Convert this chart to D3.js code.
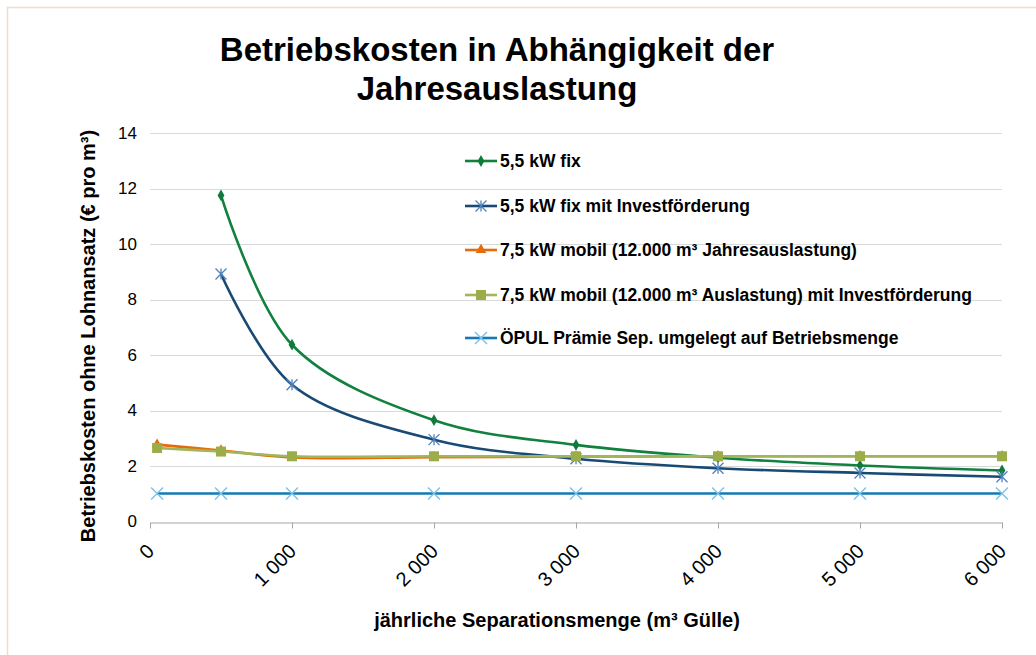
<!DOCTYPE html>
<html>
<head>
<meta charset="utf-8">
<script src="https://cdn.jsdelivr.net/npm/d3@7"></script>
<style>
  body { margin: 0; background: #fff; }
  svg { display: block; font-family: "Liberation Sans", Arial, sans-serif; }
</style>
</head>
<body>
<svg width="1036" height="655"></svg>
<script>
// data
var mengen = [50, 500, 1000, 2000, 3000, 4000, 5000, 6000];
var fix55 = [null, 11.75, 6.37, 3.65, 2.76, 2.30, 2.02, 1.84];
var fix55Invest = [null, 8.92, 4.93, 2.95, 2.26, 1.92, 1.75, 1.61];
var mobil75 = [2.77, 2.56, 2.31, 2.32, 2.34, 2.35, 2.35, 2.35];
var mobil75Invest = [2.65, 2.52, 2.35, 2.35, 2.35, 2.35, 2.35, 2.35];
var oepul = [1.01, 1.01, 1.01, 1.01, 1.01, 1.01, 1.01, 1.01];
var yTicks = [0, 2, 4, 6, 8, 10, 12, 14];
var xTicks = [0, 1000, 2000, 3000, 4000, 5000, 6000];

var series = [
  { name: "5,5 kW fix", values: fix55, line: "#12803f", mark: "#0f7a3b", symbol: "diamond" },
  { name: "5,5 kW fix mit Investförderung", values: fix55Invest, line: "#184a74", mark: "#4f81bd", symbol: "asterisk" },
  { name: "7,5 kW mobil (12.000 m³ Jahresauslastung)", values: mobil75, line: "#e46c0a", mark: "#e46c0a", symbol: "triangle" },
  { name: "7,5 kW mobil (12.000 m³ Auslastung) mit Investförderung", values: mobil75Invest, line: "#a3b55a", mark: "#9aad48", symbol: "square" },
  { name: "ÖPUL Prämie Sep. umgelegt auf Betriebsmenge", values: oepul, line: "#1479b5", mark: "#7fc3e8", symbol: "cross" }
];

var svg = d3.select("svg");

// outer frame
svg.append("rect")
  .attr("x", 7.5).attr("y", 7.5)
  .attr("width", 1100).attr("height", 700)
  .attr("fill", "none")
  .attr("stroke", "#f1dbcd")
  .attr("stroke-width", 1.5);

var x = d3.scaleLinear().domain([0, 6000]).range([150, 1002]);
var y = d3.scaleLinear().domain([0, 14]).range([521.5, 133]);

// title
var title = svg.append("text")
  .attr("text-anchor", "middle")
  .attr("font-weight", "bold")
  .attr("font-size", 33)
  .attr("fill", "#000");
title.append("tspan").attr("x", 497).attr("y", 61).text("Betriebskosten in Abhängigkeit der");
title.append("tspan").attr("x", 497).attr("y", 100).text("Jahresauslastung");

// gridlines
svg.append("g")
  .selectAll("line")
  .data(yTicks.filter(function (d) { return d > 0; }))
  .join("line")
  .attr("x1", x(0)).attr("x2", x(6000))
  .attr("y1", function (d) { return Math.round(y(d)) + 0.5; })
  .attr("y2", function (d) { return Math.round(y(d)) + 0.5; })
  .attr("stroke", "#d9d9d9")
  .attr("stroke-width", 1);

// y axis labels
var yAxis = svg.append("g")
  .attr("transform", "translate(" + x(0) + ",0)")
  .call(d3.axisLeft(y).tickValues(yTicks).tickSize(0).tickPadding(13));
yAxis.select(".domain").remove();
yAxis.selectAll("text")
  .attr("font-family", "Liberation Sans, Arial, sans-serif")
  .attr("font-size", 17)
  .attr("fill", "#000");

// x axis
var fmt = function (d) { return d3.format(",")(d).replace(/,/g, " "); };
var xAxis = svg.append("g")
  .attr("transform", "translate(0," + (Math.round(y(0)) + 0.5) + ")")
  .call(d3.axisBottom(x).tickValues(xTicks).tickSize(6).tickSizeOuter(0).tickFormat(fmt));
xAxis.select(".domain").attr("stroke", "#a6a6a6");
xAxis.selectAll(".tick line").attr("stroke", "#a6a6a6");
xAxis.selectAll("text")
  .attr("font-family", "Liberation Sans, Arial, sans-serif")
  .attr("font-size", 20)
  .attr("fill", "#000")
  .attr("text-anchor", "end")
  .attr("x", 0).attr("y", 0)
  .attr("dy", "0.35em")
  .attr("transform", "translate(0,25) rotate(-45)");

// axis titles
svg.append("text")
  .attr("x", 557).attr("y", 627)
  .attr("text-anchor", "middle")
  .attr("font-weight", "bold")
  .attr("font-size", 20)
  .text("jährliche Separationsmenge (m³ Gülle)");

svg.append("text")
  .attr("transform", "translate(95,336) rotate(-90)")
  .attr("text-anchor", "middle")
  .attr("font-weight", "bold")
  .attr("font-size", 20)
  .text("Betriebskosten ohne Lohnansatz (€ pro m³)");

// markers
function drawMarker(g, s, cx, cy) {
  if (s.symbol === "diamond") {
    g.append("path").attr("d", d3.symbol(d3.symbolDiamond, 40)())
      .attr("transform", "translate(" + cx + "," + cy + ")")
      .attr("fill", s.mark);
  } else if (s.symbol === "triangle") {
    g.append("path").attr("d", d3.symbol(d3.symbolTriangle, 50)())
      .attr("transform", "translate(" + cx + "," + cy + ")")
      .attr("fill", s.mark);
  } else if (s.symbol === "square") {
    g.append("rect").attr("x", cx - 5).attr("y", cy - 5)
      .attr("width", 10).attr("height", 10)
      .attr("fill", s.mark);
  } else if (s.symbol === "asterisk") {
    var r = 5.5;
    g.append("path")
      .attr("d", "M" + (cx - r) + "," + (cy - r) + "L" + (cx + r) + "," + (cy + r) +
                 "M" + (cx - r) + "," + (cy + r) + "L" + (cx + r) + "," + (cy - r) +
                 "M" + cx + "," + (cy - r) + "L" + cx + "," + (cy + r))
      .attr("stroke", s.mark).attr("stroke-width", 1.3).attr("fill", "none");
  } else {
    var q = 6;
    g.append("path")
      .attr("d", "M" + (cx - q) + "," + (cy - q) + "L" + (cx + q) + "," + (cy + q) +
                 "M" + (cx - q) + "," + (cy + q) + "L" + (cx + q) + "," + (cy - q))
      .attr("stroke", s.mark).attr("stroke-width", 1.5).attr("fill", "none");
  }
}

var line = d3.line()
  .defined(function (d) { return d[1] != null; })
  .x(function (d) { return x(d[0]); })
  .y(function (d) { return y(d[1]); })
  .curve(d3.curveCatmullRom.alpha(0.5));

var plot = svg.append("g");
// later series are drawn on top, as in the reference
series.forEach(function (s) {
  var pts = mengen.map(function (m, i) { return [m, s.values[i]]; })
    .filter(function (d) { return d[1] != null; });
  var g = plot.append("g");
  g.append("path")
    .attr("d", line(pts))
    .attr("fill", "none")
    .attr("stroke", s.line)
    .attr("stroke-width", 2.6);
  pts.forEach(function (d) { drawMarker(g, s, x(d[0]), y(d[1])); });
});

// legend
var legendY = [161, 206, 250, 295, 338];
var legend = svg.append("g");
series.forEach(function (s, i) {
  var ly = legendY[i];
  legend.append("line")
    .attr("x1", 465).attr("x2", 497)
    .attr("y1", ly).attr("y2", ly)
    .attr("stroke", s.line).attr("stroke-width", 2.6);
  drawMarker(legend, s, 481, ly);
  legend.append("text")
    .attr("x", 500).attr("y", ly)
    .attr("dy", "0.35em")
    .attr("font-weight", "bold")
    .attr("font-size", 17.5)
    .text(s.name);
});
</script>
</body>
</html>
